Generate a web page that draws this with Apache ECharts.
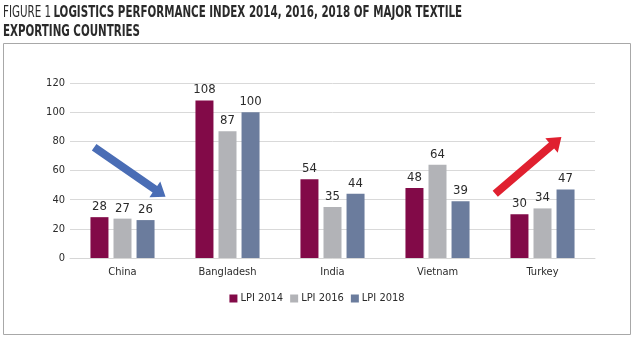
<!DOCTYPE html>
<html>
<head>
<meta charset="utf-8">
<script src="https://cdn.jsdelivr.net/npm/echarts@6/dist/echarts.min.js"></script>
<style>
  html, body { margin: 0; padding: 0; background: #fff; }
  #chart { width: 634px; height: 339px; }
</style>
</head>
<body>
<div id="chart"></div>
<script>
// LPI rank of major textile exporters
const countries = ['China', 'Bangladesh', 'India', 'Vietnam', 'Turkey'];
const lpi2014 = [28, 108, 54, 48, 30];
const lpi2016 = [27, 87, 35, 64, 34];
const lpi2018 = [26, 100, 44, 39, 47];
const yTicks = [0, 20, 40, 60, 80, 100, 120];

const FONT = '"Liberation Sans Narrow", "DejaVu Sans Condensed", "DejaVu Sans", sans-serif';
const STRETCH = 'condensed';
const COLORS = ['#820a48', '#b2b3b7', '#6b7c9d'];

const chart = echarts.init(document.getElementById('chart'), null, { renderer: 'canvas' });

function barSeries(name, data, color) {
  return {
    name: name,
    type: 'bar',
    data: data,
    barWidth: 18,
    barGap: '28%',
    itemStyle: { color: color },
    label: {
      show: true,
      position: 'top',
      distance: 4,
      color: '#2b2b2b',
      fontFamily: FONT,
      fontStyle: STRETCH,
      fontSize: 13
    }
  };
}

chart.setOption({
  animation: false,
  backgroundColor: '#fff',
  legend: {
    bottom: 30,
    left: 'center',
    itemWidth: 8,
    itemHeight: 8,
    itemGap: 7,
    icon: 'rect',
    textStyle: { fontFamily: FONT, fontStyle: STRETCH, fontSize: 11, color: '#2b2b2b', padding: [0, 0, 0, -2] },
    data: ['LPI 2014', 'LPI 2016', 'LPI 2018']
  },
  grid: { left: 70, right: 39, top: 83, bottom: 81 },
  xAxis: {
    type: 'category',
    data: countries,
    axisLine: { show: true, lineStyle: { color: '#d6d6d6' } },
    axisTick: { show: false },
    axisLabel: { fontFamily: FONT, fontStyle: STRETCH, fontSize: 11, color: '#2b2b2b', margin: 9 }
  },
  yAxis: {
    type: 'value',
    min: yTicks[0],
    max: yTicks[yTicks.length - 1],
    interval: 20,
    axisLine: { show: false },
    axisTick: { show: false },
    splitLine: { lineStyle: { color: '#d9d9d9' } },
    axisLabel: { fontFamily: FONT, fontStyle: STRETCH, fontSize: 11, color: '#2b2b2b', margin: 5 }
  },
  series: [
    barSeries('LPI 2014', lpi2014, COLORS[0]),
    barSeries('LPI 2016', lpi2016, COLORS[1]),
    barSeries('LPI 2018', lpi2018, COLORS[2])
  ]
});

// Trend arrows, placed relative to the category band and value scale
function pointAt(catIndex, bandOffset, value) {
  const p0 = chart.convertToPixel({ gridIndex: 0 }, [catIndex, value]);
  const p1 = chart.convertToPixel({ gridIndex: 0 }, [catIndex + 1, value]);
  const band = p1[0] - p0[0];
  return [p0[0] + bandOffset * band, p0[1]];
}

function arrowPoints(from, to, shaft, headW, headL) {
  const dx = to[0] - from[0], dy = to[1] - from[1];
  const len = Math.sqrt(dx * dx + dy * dy);
  const ux = dx / len, uy = dy / len;
  const nx = -uy, ny = ux;
  const bx = to[0] - ux * headL, by = to[1] - uy * headL;
  const s = shaft / 2, h = headW / 2;
  return [
    [from[0] + nx * s, from[1] + ny * s],
    [bx + nx * s, by + ny * s],
    [bx + nx * h, by + ny * h],
    [to[0], to[1]],
    [bx - nx * h, by - ny * h],
    [bx - nx * s, by - ny * s],
    [from[0] - nx * s, from[1] - ny * s]
  ];
}

const blueFrom = pointAt(0, -0.27, 76);
const blueTo = pointAt(0, 0.41, 42);
const redFrom = pointAt(4, -0.45, 44);
const redTo = pointAt(4, 0.18, 83);

const titleText = '{a|FIGURE 1} {b|LOGISTICS PERFORMANCE INDEX 2014, 2016, 2018 OF MAJOR TEXTILE}\n{b|EXPORTING COUNTRIES}';

chart.setOption({
  graphic: [
    {
      // heading, horizontally compressed to a narrow setting
      type: 'text',
      x: 3,
      y: 4,
      scaleX: 0.717,
      scaleY: 1,
      originX: 0,
      originY: 0,
      style: {
        text: titleText,
        fill: '#2a2a2a',
        rich: {
          a: { fontFamily: FONT, fontSize: 16, fontWeight: 'normal', fill: '#2a2a2a', lineHeight: 18.5 },
          b: { fontFamily: FONT, fontSize: 16, fontWeight: 'bold', fill: '#2a2a2a', lineHeight: 18.5 }
        }
      }
    },
    {
      type: 'rect',
      shape: { x: 3.5, y: 43.5, width: 627, height: 291 },
      style: { fill: 'none', stroke: '#a8a8a8', lineWidth: 1 },
      z: -1
    },
    {
      type: 'polygon',
      shape: { points: arrowPoints(blueFrom, blueTo, 8, 19, 13) },
      style: { fill: '#4a6db5' }
    },
    {
      type: 'polygon',
      shape: { points: arrowPoints(redFrom, redTo, 8, 19, 13) },
      style: { fill: '#e0202f' }
    }
  ]
});
</script>
</body>
</html>
